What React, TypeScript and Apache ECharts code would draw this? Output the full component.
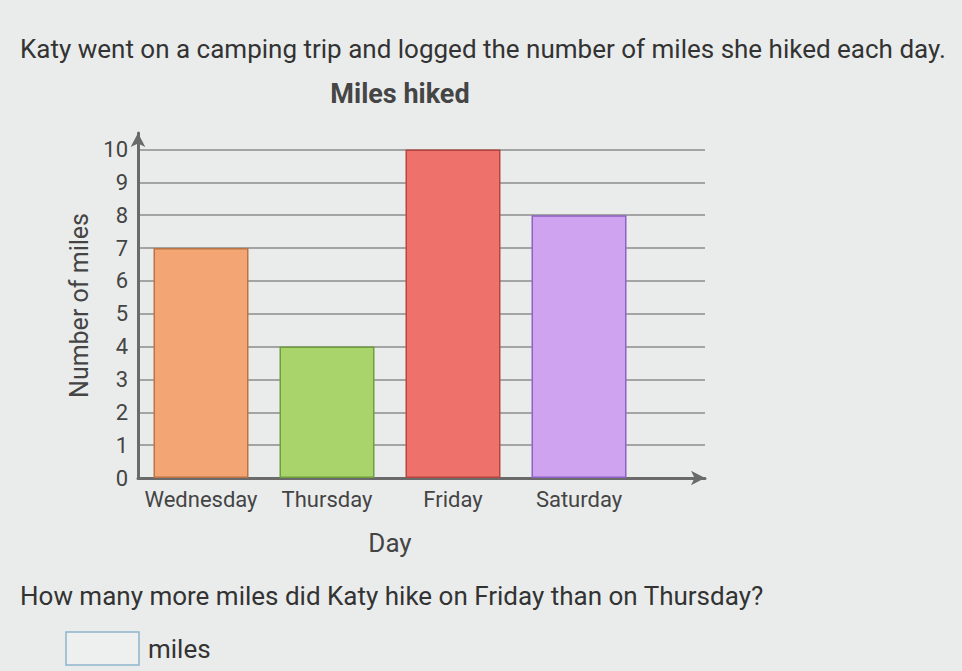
import React, { useEffect, useRef } from "react";
import * as echarts from "echarts";

const days = ["Wednesday", "Thursday", "Friday", "Saturday"];
const miles = [7, 4, 10, 8];
const barFills = ["#F3A674", "#A9D46C", "#EF716B", "#CFA3EF"];
const barBorders = ["#B97448", "#6E9E3E", "#B4463F", "#8C62C2"];
const yTicks = [0, 1, 2, 3, 4, 5, 6, 7, 8, 9, 10];

const FONT = "Roboto, 'Noto Sans', sans-serif";

export default function App() {
  const ref = useRef<HTMLDivElement>(null);
  useEffect(() => {
    if (!ref.current) return;
    const chart = echarts.init(ref.current, null, { renderer: "svg" });
    const gridTop = 133;
    const gridBottom = 671 - 478;
    chart.setOption({
      animation: false,
      backgroundColor: "#eaecec",
      textStyle: { fontFamily: FONT },
      title: {
        text: "Miles hiked",
        left: 395,
        textAlign: "center",
        top: 75,
        textStyle: { fontSize: 27, fontWeight: "bold", color: "#454545", fontFamily: FONT },
      },
      grid: [
        { left: 138, right: 962 - 705, top: gridTop, bottom: gridBottom },
        { left: 138, width: 504, top: gridTop, bottom: gridBottom },
      ],
      xAxis: [
        {
          gridIndex: 0,
          type: "value",
          min: 0,
          max: 1,
          axisLine: {
            show: true,
            symbol: ["none", "arrow"],
            symbolSize: [11, 14],
            lineStyle: { color: "#6a6a6a", width: 3 },
          },
          axisTick: { show: false },
          axisLabel: { show: false },
          splitLine: { show: false },
        },
        {
          gridIndex: 1,
          type: "category",
          data: days,
          axisLine: { show: false },
          axisTick: { show: false },
          axisLabel: { fontSize: 22, color: "#444", margin: 10, interval: 0, fontFamily: FONT },
          name: "Day",
          nameLocation: "middle",
          nameGap: 52,
          nameTextStyle: { fontSize: 26, color: "#444", fontFamily: FONT },
        },
      ],
      yAxis: [
        {
          gridIndex: 0,
          type: "value",
          min: 0,
          max: 10.5,
          interval: 1,
          axisLine: {
            show: true,
            symbol: ["none", "arrow"],
            symbolSize: [11, 14],
            lineStyle: { color: "#6a6a6a", width: 3 },
          },
          axisTick: { show: false },
          axisLabel: {
            fontSize: 22,
            color: "#444",
            margin: 10,
            showMaxLabel: false,
            fontFamily: FONT,
            formatter: (v: number) => (yTicks.includes(v) ? String(v) : ""),
          },
          splitLine: {
            show: true,
            showMinLine: false,
            showMaxLine: false,
            lineStyle: { color: "#8c8c8c", width: 1.5 },
          },
          name: "Number of miles",
          nameLocation: "middle",
          nameGap: 45,
          nameTextStyle: { fontSize: 25, color: "#444", fontFamily: FONT },
        },
        {
          gridIndex: 1,
          type: "value",
          min: 0,
          max: 10.5,
          interval: 1,
          show: false,
          splitLine: { show: false },
        },
      ],
      series: [
        {
          type: "bar",
          xAxisIndex: 1,
          yAxisIndex: 1,
          barWidth: 95,
          data: miles.map((v, i) => ({
            value: v,
            itemStyle: { color: barFills[i], borderColor: barBorders[i], borderWidth: 1.5 },
          })),
        },
      ],
      graphic: [
        {
          type: "text",
          left: 20,
          top: 36,
          style: {
            text: "Katy went on a camping trip and logged the number of miles she hiked each day.",
            fontSize: 26,
            fill: "#333",
            fontFamily: FONT,
          },
        },
        {
          type: "text",
          left: 20,
          top: 583,
          style: {
            text: "How many more miles did Katy hike on Friday than on Thursday?",
            fontSize: 26,
            fill: "#333",
            fontFamily: FONT,
          },
        },
        {
          type: "rect",
          shape: { x: 66, y: 632, width: 73, height: 33 },
          style: { fill: "#eef0f0", stroke: "#8fb3cc", lineWidth: 1.5 },
        },
        {
          type: "text",
          left: 148,
          top: 636,
          style: { text: "miles", fontSize: 26, fill: "#333", fontFamily: FONT },
        },
      ],
    });
    return () => chart.dispose();
  }, []);
  return (
    <div
      ref={ref}
      style={{ position: "fixed", left: 0, top: 0, width: 962, height: 671 }}
    />
  );
}
